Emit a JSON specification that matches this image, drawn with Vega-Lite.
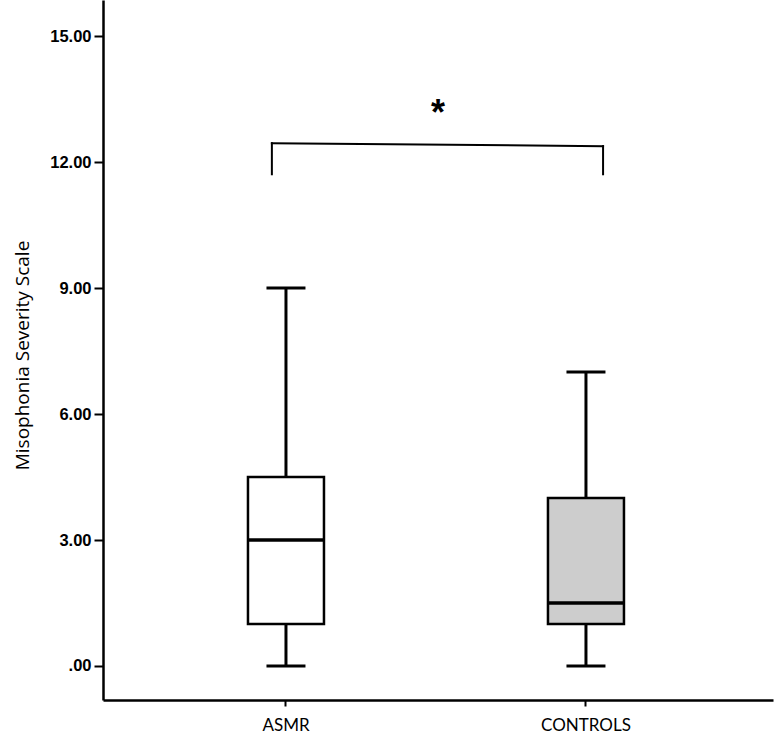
{
  "$schema": "https://vega.github.io/schema/vega-lite/v6.json",
  "autosize": "none",
  "width": 670,
  "height": 700,
  "padding": {"left": 103, "top": 0, "right": 10, "bottom": 45},
  "background": "white",
  "config": {
    "view": {"stroke": null},
    "axisX": {
      "title": null, "labelAngle": 0, "grid": false,
      "domainColor": "black", "domainWidth": 2.5,
      "tickColor": "black", "tickWidth": 2, "tickSize": 6,
      "labelFont": "Lato", "labelFontSize": 17, "labelColor": "black",
      "labelPadding": 11
    }
  },
  "datasets": {
    "stats": [
      {"group": "ASMR", "min": 0, "q1": 1, "median": 3, "q3": 4.5, "max": 9},
      {"group": "CONTROLS", "min": 0, "q1": 1, "median": 1.5, "q3": 4, "max": 7}
    ],
    "bracket": [
      {"from": "ASMR", "to": "CONTROLS", "top_left": 12.45, "top_right": 12.38, "bottom": 11.71}
    ],
    "sig": [{"label": "*", "y": 13.15}]
  },
  "layer": [
    {
      "data": {"name": "stats"},
      "mark": {"type": "rule", "color": "black", "strokeWidth": 3},
      "encoding": {
        "x": {
          "field": "group", "type": "nominal", "title": null,
          "scale": {"domain": ["ASMR", "CONTROLS"], "paddingInner": 0, "paddingOuter": 0.1167, "align": 0.471}
        },
        "y": {
          "field": "min", "type": "quantitative",
          "scale": {"domain": [-0.81, 15.86], "nice": false, "zero": false},
          "axis": {
            "title": "Misophonia Severity Scale",
            "values": [0, 3, 6, 9, 12, 15],
            "labelExpr": "datum.value == 0 ? '.00' : format(datum.value, '.2f')",
            "grid": false,
            "domainColor": "black", "domainWidth": 2.5,
            "tickColor": "black", "tickWidth": 2, "tickSize": 9,
            "labelFont": "Liberation Sans", "labelFontWeight": "bold", "labelFontSize": 16.5,
            "labelColor": "black", "labelPadding": 3,
            "titleFont": "Open Sans", "titleFontSize": 19, "titleFontWeight": "normal",
            "titleColor": "black", "titlePadding": 17, "titleY": 355
          }
        },
        "y2": {"field": "max"}
      }
    },
    {
      "data": {"name": "stats"},
      "mark": {"type": "bar", "width": 76, "stroke": "black", "strokeWidth": 2.5},
      "encoding": {
        "x": {"field": "group", "type": "nominal", "title": null},
        "y": {"field": "q1", "type": "quantitative"},
        "y2": {"field": "q3"},
        "fill": {
          "field": "group", "type": "nominal",
          "scale": {"domain": ["ASMR", "CONTROLS"], "range": ["#ffffff", "#cdcdcd"]},
          "legend": null
        }
      }
    },
    {
      "data": {"name": "stats"},
      "mark": {"type": "tick", "color": "black", "size": 76, "thickness": 3.5, "opacity": 1},
      "encoding": {
        "x": {"field": "group", "type": "nominal", "title": null},
        "y": {"field": "median", "type": "quantitative"}
      }
    },
    {
      "data": {"name": "stats"},
      "mark": {"type": "tick", "color": "black", "size": 39, "thickness": 3, "opacity": 1},
      "encoding": {
        "x": {"field": "group", "type": "nominal", "title": null},
        "y": {"field": "min", "type": "quantitative"}
      }
    },
    {
      "data": {"name": "stats"},
      "mark": {"type": "tick", "color": "black", "size": 39, "thickness": 3, "opacity": 1},
      "encoding": {
        "x": {"field": "group", "type": "nominal", "title": null},
        "y": {"field": "max", "type": "quantitative"}
      }
    },
    {
      "data": {"name": "bracket"},
      "mark": {"type": "rule", "color": "black", "strokeWidth": 2, "strokeCap": "square"},
      "encoding": {
        "x": {"field": "from", "type": "nominal", "title": null, "bandPosition": 0.453},
        "y": {"field": "bottom", "type": "quantitative"},
        "y2": {"field": "top_left"}
      }
    },
    {
      "data": {"name": "bracket"},
      "mark": {"type": "rule", "color": "black", "strokeWidth": 2, "strokeCap": "square"},
      "encoding": {
        "x": {"field": "to", "type": "nominal", "title": null, "bandPosition": 0.557},
        "y": {"field": "bottom", "type": "quantitative"},
        "y2": {"field": "top_right"}
      }
    },
    {
      "data": {"name": "bracket"},
      "mark": {"type": "rule", "color": "black", "strokeWidth": 2, "strokeCap": "square"},
      "encoding": {
        "x": {"field": "from", "type": "nominal", "title": null, "bandPosition": 0.453},
        "x2": {"field": "to", "bandPosition": 0.557},
        "y": {"field": "top_left", "type": "quantitative"},
        "y2": {"field": "top_right"}
      }
    },
    {
      "data": {"name": "sig"},
      "mark": {"type": "text", "font": "Liberation Sans", "fontWeight": "bold", "fontSize": 36, "color": "black", "baseline": "middle", "align": "center"},
      "encoding": {
        "y": {"field": "y", "type": "quantitative"},
        "text": {"field": "label"}
      }
    }
  ]
}
